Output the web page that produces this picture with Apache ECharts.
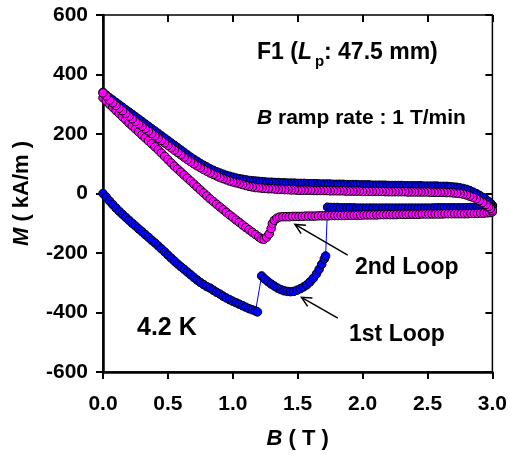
<!DOCTYPE html>
<html>
<head>
<meta charset="utf-8">
<script src="https://cdn.jsdelivr.net/npm/echarts@6/dist/echarts.min.js"></script>
<style>
  html, body { margin: 0; padding: 0; background: #fff; }
  #main { width: 510px; height: 455px; }
</style>
</head>
<body>
<div id="main"></div>
<script>
// axis ticks
const xTicks = [0, 0.5, 1.0, 1.5, 2.0, 2.5, 3.0];
const yTicks = [-600, -400, -200, 0, 200, 400, 600];

// 1st loop (blue), [B (T), M (kA/m)]
const blueVirgin = [
  [0, 0], [0.025, -12], [0.05, -25], [0.075, -37], [0.1, -49], [0.125, -60], [0.15, -70],
  [0.175, -80], [0.2, -90], [0.225, -100], [0.25, -109], [0.275, -119], [0.3, -128],
  [0.325, -138], [0.35, -147], [0.375, -157], [0.4, -166], [0.425, -176], [0.45, -186],
  [0.475, -196], [0.5, -207], [0.525, -217], [0.55, -227], [0.575, -237], [0.6, -246],
  [0.625, -255], [0.65, -264], [0.675, -273], [0.7, -282], [0.725, -291], [0.75, -299],
  [0.775, -306], [0.8, -313], [0.825, -318], [0.85, -325], [0.875, -332], [0.9, -338],
  [0.925, -345], [0.95, -351], [0.975, -357], [1.0, -362], [1.025, -367], [1.05, -372],
  [1.075, -377], [1.1, -382], [1.125, -387], [1.15, -391], [1.175, -395], [1.19, -398]
];
const blueDip = [
  [1.222, -277], [1.245, -287], [1.27, -296], [1.295, -304], [1.32, -311], [1.345, -318],
  [1.37, -323], [1.395, -327], [1.42, -329], [1.445, -330], [1.47, -329], [1.495, -325],
  [1.52, -320], [1.545, -314], [1.57, -307], [1.595, -297], [1.62, -285], [1.645, -270],
  [1.665, -255], [1.685, -238], [1.705, -220], [1.715, -210]
];
const blueLower = [
  [1.73, -46], [1.755, -47], [1.78, -47], [1.805, -47], [1.83, -48], [1.855, -48], [1.88, -48],
  [1.905, -48], [1.93, -48], [1.955, -49], [1.98, -49], [2.005, -49], [2.03, -49], [2.055, -49],
  [2.08, -49], [2.105, -49], [2.13, -49], [2.155, -49], [2.18, -49], [2.205, -49], [2.23, -49],
  [2.255, -49], [2.28, -49], [2.305, -49], [2.33, -49], [2.355, -49], [2.38, -49], [2.405, -49],
  [2.43, -49], [2.455, -49], [2.48, -49], [2.505, -49], [2.53, -49], [2.555, -48], [2.58, -48],
  [2.605, -48], [2.63, -48], [2.655, -48], [2.68, -48], [2.705, -48], [2.73, -48], [2.755, -48],
  [2.78, -48], [2.805, -48], [2.83, -47], [2.855, -47], [2.88, -47], [2.905, -46], [2.93, -46],
  [2.955, -45], [2.98, -44], [3.0, -43]
];
const blueReturn = [
  [3.0, -40], [2.985, -33], [2.97, -27], [2.95, -20], [2.925, -13], [2.9, -6], [2.875, 0],
  [2.85, 5], [2.825, 10], [2.8, 14], [2.775, 17], [2.75, 19], [2.725, 21], [2.7, 22],
  [2.675, 23], [2.65, 24], [2.625, 24], [2.6, 24], [2.575, 25], [2.55, 25], [2.525, 25],
  [2.5, 25], [2.475, 25], [2.45, 26], [2.425, 26], [2.4, 26], [2.375, 26], [2.35, 26],
  [2.325, 26], [2.3, 27], [2.275, 27], [2.25, 27], [2.225, 27], [2.2, 27], [2.175, 28],
  [2.15, 28], [2.125, 28], [2.1, 28], [2.075, 28], [2.05, 29], [2.025, 29], [2.0, 29],
  [1.975, 29], [1.95, 30], [1.925, 30], [1.9, 30], [1.875, 30], [1.85, 31], [1.825, 31],
  [1.8, 31], [1.775, 31], [1.75, 32], [1.725, 32], [1.7, 32], [1.675, 32], [1.65, 33],
  [1.625, 33], [1.6, 33], [1.575, 33], [1.55, 34], [1.525, 34], [1.5, 34], [1.475, 35],
  [1.45, 35], [1.425, 35], [1.4, 36], [1.375, 36], [1.35, 37], [1.325, 37], [1.3, 38],
  [1.275, 38], [1.25, 39], [1.225, 40], [1.2, 41], [1.175, 42], [1.15, 43], [1.125, 44],
  [1.1, 46], [1.075, 48], [1.05, 50], [1.025, 52], [1.0, 55], [0.975, 58], [0.95, 61],
  [0.925, 65], [0.9, 69], [0.875, 73], [0.85, 78], [0.825, 83], [0.8, 89], [0.775, 95],
  [0.75, 101], [0.725, 108], [0.7, 115], [0.675, 122], [0.65, 130], [0.625, 138], [0.6, 146],
  [0.575, 154], [0.55, 162], [0.525, 170], [0.5, 178], [0.475, 186], [0.45, 194], [0.425, 202],
  [0.4, 210], [0.375, 218], [0.35, 226], [0.325, 234], [0.3, 242], [0.275, 250], [0.25, 258],
  [0.225, 266], [0.2, 274], [0.175, 282], [0.15, 290], [0.125, 298], [0.1, 306], [0.075, 314],
  [0.05, 322], [0.025, 331], [0, 340]
];

// 2nd loop (magenta)
const magDown = [
  [0, 322], [0.025, 311], [0.05, 300], [0.075, 290], [0.1, 279], [0.125, 269], [0.15, 258],
  [0.175, 248], [0.2, 237], [0.225, 227], [0.25, 217], [0.275, 207], [0.3, 197], [0.325, 187],
  [0.35, 177], [0.375, 167], [0.4, 157], [0.425, 147], [0.45, 136], [0.475, 125], [0.5, 114],
  [0.525, 103], [0.55, 92], [0.575, 82], [0.6, 72], [0.625, 62], [0.65, 52], [0.675, 42],
  [0.7, 32], [0.725, 22], [0.75, 12], [0.775, 2], [0.8, -8], [0.825, -18], [0.85, -27],
  [0.875, -36], [0.9, -45], [0.925, -54], [0.95, -63], [0.975, -72], [1.0, -80], [1.025, -89],
  [1.05, -97], [1.075, -106], [1.1, -114], [1.125, -122], [1.15, -130], [1.175, -138],
  [1.2, -146], [1.22, -152], [1.24, -154], [1.26, -147], [1.28, -136], [1.295, -118],
  [1.305, -101], [1.32, -90], [1.34, -83], [1.36, -79]
];
const magLower = [
  [1.385, -78], [1.41, -78], [1.435, -78], [1.46, -77], [1.485, -77], [1.51, -77], [1.535, -77],
  [1.56, -76], [1.585, -76], [1.61, -76], [1.635, -76], [1.66, -75], [1.685, -75], [1.71, -75],
  [1.735, -75], [1.76, -74], [1.785, -74], [1.81, -74], [1.835, -74], [1.86, -74], [1.885, -73],
  [1.91, -73], [1.935, -73], [1.96, -73], [1.985, -73], [2.01, -72], [2.035, -72], [2.06, -72],
  [2.085, -72], [2.11, -72], [2.135, -71], [2.16, -71], [2.185, -71], [2.21, -71], [2.235, -71],
  [2.26, -71], [2.285, -70], [2.31, -70], [2.335, -70], [2.36, -70], [2.385, -70], [2.41, -70],
  [2.435, -70], [2.46, -69], [2.485, -69], [2.51, -69], [2.535, -69], [2.56, -69], [2.585, -69],
  [2.61, -69], [2.635, -68], [2.66, -68], [2.685, -68], [2.71, -68], [2.735, -68], [2.76, -68],
  [2.785, -68], [2.81, -68], [2.835, -67], [2.86, -67], [2.885, -67], [2.91, -66], [2.935, -66],
  [2.96, -65], [2.98, -64], [3.0, -62]
];
const magReturn = [
  [3.0, -56], [2.985, -50], [2.97, -44], [2.95, -37], [2.925, -30], [2.9, -24], [2.875, -18],
  [2.85, -13], [2.825, -9], [2.8, -5], [2.775, -2], [2.75, 0], [2.725, 1], [2.7, 2],
  [2.675, 3], [2.65, 3], [2.625, 4], [2.6, 4], [2.575, 4], [2.55, 4], [2.525, 4], [2.5, 5],
  [2.475, 5], [2.45, 5], [2.425, 5], [2.4, 5], [2.375, 5], [2.35, 5], [2.325, 6], [2.3, 6],
  [2.275, 6], [2.25, 6], [2.225, 6], [2.2, 6], [2.175, 6], [2.15, 7], [2.125, 7], [2.1, 7],
  [2.075, 7], [2.05, 7], [2.025, 7], [2.0, 7], [1.975, 8], [1.95, 8], [1.925, 8], [1.9, 8],
  [1.875, 8], [1.85, 9], [1.825, 9], [1.8, 9], [1.775, 9], [1.75, 9], [1.725, 10], [1.7, 10],
  [1.675, 10], [1.65, 10], [1.625, 10], [1.6, 11], [1.575, 11], [1.55, 11], [1.525, 11],
  [1.5, 11], [1.475, 12], [1.45, 12], [1.425, 13], [1.4, 13], [1.375, 14], [1.35, 14],
  [1.325, 15], [1.3, 16], [1.275, 16], [1.25, 17], [1.225, 18], [1.2, 19], [1.175, 20],
  [1.15, 22], [1.125, 24], [1.1, 27], [1.075, 30], [1.05, 33], [1.025, 36], [1.0, 39],
  [0.975, 42], [0.95, 46], [0.925, 50], [0.9, 54], [0.875, 59], [0.85, 64], [0.825, 69],
  [0.8, 75], [0.775, 81], [0.75, 87], [0.725, 93], [0.7, 100], [0.675, 107], [0.65, 114],
  [0.625, 122], [0.6, 130], [0.575, 138], [0.55, 146], [0.525, 154], [0.5, 162], [0.475, 170],
  [0.45, 178], [0.425, 186], [0.4, 194], [0.375, 202], [0.35, 210], [0.325, 218], [0.3, 226],
  [0.275, 234], [0.25, 242], [0.225, 251], [0.2, 260], [0.175, 269], [0.15, 278], [0.125, 287],
  [0.1, 296], [0.075, 305], [0.05, 314], [0.025, 328], [0, 338]
];

// arrows, [tail, head] in data coords
const arrow2nd = [[1.885, -207], [1.479, -104]];
const arrow1st = [[1.809, -419], [1.529, -349]];

const FONT = "'Liberation Sans', Arial, sans-serif";
const blueLine = blueVirgin.concat(blueDip, blueLower, blueReturn);
const magLine = magDown.concat(magLower, magReturn);

const myChart = echarts.init(document.getElementById("main"));

function axisPair(isX) {
  const base = {
    type: "value",
    min: isX ? xTicks[0] : yTicks[0],
    max: isX ? xTicks[xTicks.length - 1] : yTicks[yTicks.length - 1],
    interval: isX ? 0.5 : 200,
    splitLine: { show: false },
  };
  const main = Object.assign({}, base, {
    axisLine: { show: true, onZero: false, lineStyle: { color: "#000", width: 2.5 } },
    axisTick: { show: true, inside: false, length: 7, lineStyle: { color: "#000", width: 2 } },
    axisLabel: {
      color: "#000",
      fontFamily: FONT,
      fontWeight: "bold",
      fontSize: 21,
      margin: isX ? 22 : 15,
      formatter: isX ? (v) => v.toFixed(1) : (v) => String(v),
    },
  });
  // second copy only for the inward half of the ticks
  const inner = Object.assign({}, base, {
    axisLine: { show: false, onZero: false },
    axisTick: { show: true, inside: true, length: 7, lineStyle: { color: "#000", width: 2 } },
    axisLabel: { show: false },
  });
  return [main, inner];
}

const nameStyle = {
  fontFamily: FONT, fontWeight: "bold", fontSize: 22, color: "#000",
  rich: { i: { fontFamily: FONT, fontWeight: "bold", fontStyle: "italic", fontSize: 22, color: "#000" } },
};
const xs = axisPair(true);
const ys = axisPair(false);
xs[0].name = "{i|B} ( T )";
xs[0].nameLocation = "middle";
xs[0].nameGap = 56;
xs[0].nameTextStyle = nameStyle;
ys[0].name = "{i|M} ( kA/m )";
ys[0].nameLocation = "middle";
ys[0].nameGap = 70;
ys[0].nameTextStyle = nameStyle;

const option = {
  animation: false,
  backgroundColor: "#fff",
  grid: {
    left: 103, right: 14, top: 15, bottom: 81,
    show: true, borderColor: "#000", borderWidth: 1.5, backgroundColor: "transparent",
  },
  xAxis: xs,
  yAxis: ys,
  series: [
    {
      name: "1st Loop",
      type: "line",
      data: blueLine,
      symbol: "circle",
      symbolSize: 8.5,
      showAllSymbol: true,
      lineStyle: { color: "#0000ff", width: 1 },
      itemStyle: { color: "#0000ff", borderColor: "#000", borderWidth: 1 },
    },
    {
      name: "2nd Loop",
      type: "line",
      data: magLine,
      symbol: "circle",
      symbolSize: 8.5,
      showAllSymbol: true,
      lineStyle: { color: "#ff00ff", width: 1 },
      itemStyle: { color: "#ff00ff", borderColor: "#000", borderWidth: 1 },
    },
  ],
};
myChart.setOption(option);

// texts and arrows on top of the plot
function arrowShapes(a) {
  const t = myChart.convertToPixel({ gridIndex: 0 }, a[0]);
  const h = myChart.convertToPixel({ gridIndex: 0 }, a[1]);
  const ang = Math.atan2(t[1] - h[1], t[0] - h[0]);
  const len = 11, spread = 0.45;
  const w1 = [h[0] + len * Math.cos(ang + spread), h[1] + len * Math.sin(ang + spread)];
  const w2 = [h[0] + len * Math.cos(ang - spread), h[1] + len * Math.sin(ang - spread)];
  const st = { stroke: "#000", lineWidth: 1.5, fill: null };
  return [
    { type: "polyline", shape: { points: [t, h] }, style: st, z: 100 },
    { type: "polyline", shape: { points: [w1, h, w2] }, style: st, z: 100 },
  ];
}

function label(x, y, text, size, rich) {
  return {
    type: "text", x: x, y: y, z: 100,
    style: {
      text: text, fill: "#000", font: "bold " + size + "px " + FONT,
      verticalAlign: "middle", rich: rich,
    },
  };
}
const ital = (size) => ({ i: { fontFamily: FONT, fontWeight: "bold", fontStyle: "italic", fontSize: size, fill: "#000" } });

myChart.setOption({
  graphic: [
    label(257, 53, "F1 ({i|L}", 23, ital(23)),
    label(315, 62, "p", 15),
    label(324, 53, ": 47.5 mm)", 23),
    label(257, 118, "{i|B} ramp rate : 1 T/min", 21, ital(21)),
    label(137, 328, "4.2 K", 25),
    label(355, 268, "2nd Loop", 23),
    label(349, 335, "1st Loop", 23),
  ].concat(arrowShapes(arrow2nd), arrowShapes(arrow1st)),
});
</script>
</body>
</html>
